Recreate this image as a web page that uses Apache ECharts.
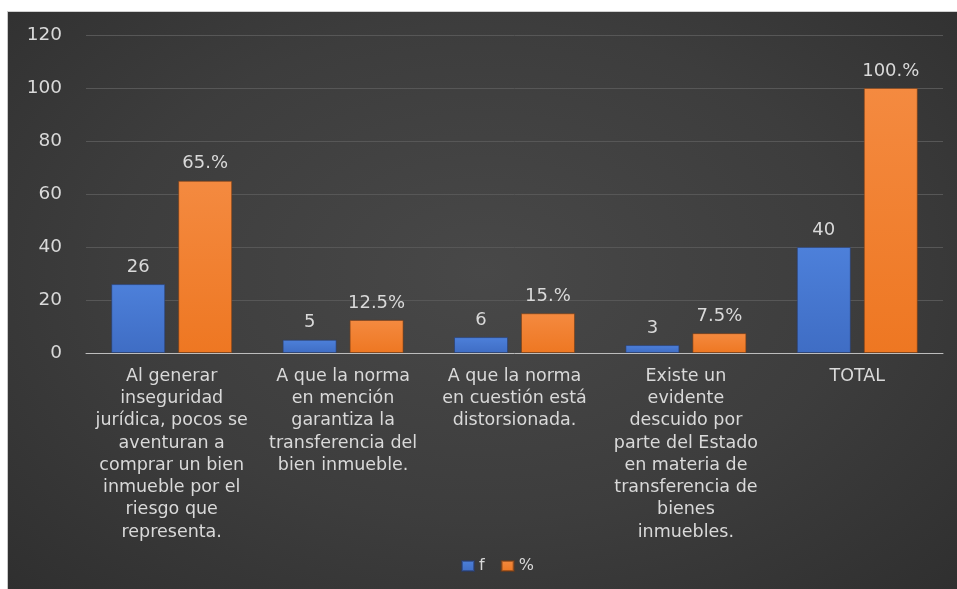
<!DOCTYPE html>
<html>
<head>
<meta charset="utf-8">
<script src="https://cdn.jsdelivr.net/npm/echarts@6/dist/echarts.min.js"></script>
<style>
  html, body { margin: 0; padding: 0; background: #ffffff; }
  #panel {
    position: absolute; left: 7px; top: 11px; width: 950px; height: 578px;
    border-left: 1px solid #c8c8c8; border-top: 1px solid #d0d0d0;
    background: radial-gradient(ellipse at 50% 45%, #484848 0%, #3d3d3d 55%, #2f2f2f 100%);
  }
  #chart { width: 950px; height: 578px; }
</style>
</head>
<body>
<div id="panel"><div id="chart"></div></div>
<script>
// Categories (multi-line labels as they appear under each group)
const categories = [
  'Al generar\ninseguridad\njurídica, pocos se\naventuran a\ncomprar un bien\ninmueble por el\nriesgo que\nrepresenta.',
  'A que la norma\nen mención\ngarantiza la\ntransferencia del\nbien inmueble.',
  'A que la norma\nen cuestión está\ndistorsionada.',
  'Existe un\nevidente\ndescuido por\nparte del Estado\nen materia de\ntransferencia de\nbienes\ninmuebles.',
  'TOTAL'
];
// Frequency per answer
const freqValues = [26, 5, 6, 3, 40];
// Percentage per answer
const pctValues = [65, 12.5, 15, 7.5, 100];
// Printed percentage labels
const pctLabels = ['65.%', '12.5%', '15.%', '7.5%', '100.%'];
// Value axis ticks
const yMin = 0, yMax = 120, yStep = 20;

const textColor = '#d9d9d9';
const fontFamily = '"DejaVu Sans", "Noto Sans", sans-serif';

const chart = echarts.init(document.getElementById('chart'), null, { renderer: 'canvas' });
chart.setOption({
  backgroundColor: 'transparent',
  textStyle: { fontFamily: fontFamily },
  grid: { left: 78, right: 15, top: 23, bottom: 237, containLabel: false },
  legend: {
    bottom: 11, left: 448,
    itemWidth: 12, itemHeight: 10, itemGap: 16,
    icon: 'rect',
    textStyle: { color: textColor, fontSize: 16, fontFamily: fontFamily },
    data: ['f', '%']
  },
  xAxis: {
    type: 'category',
    data: categories,
    axisLine: { lineStyle: { color: '#bdbdbd', width: 1 } },
    axisTick: { show: false },
    axisLabel: {
      color: textColor, fontSize: 17.5, lineHeight: 22.3, margin: 12,
      interval: 0, align: 'center', fontFamily: fontFamily
    }
  },
  yAxis: {
    type: 'value', min: yMin, max: yMax, interval: yStep,
    axisLine: { show: false }, axisTick: { show: false },
    splitLine: { lineStyle: { color: '#575757', width: 1 } },
    axisLabel: { color: textColor, fontSize: 18.5, margin: 24, fontFamily: fontFamily }
  },
  series: [
    {
      name: 'f', type: 'bar', data: freqValues,
      barWidth: 54, barGap: '24%',
      itemStyle: {
        color: new echarts.graphic.LinearGradient(0, 0, 0, 1, [
          { offset: 0, color: '#4d80da' }, { offset: 1, color: '#3f6dc4' }
        ]),
        borderColor: 'rgba(40,60,110,0.6)', borderWidth: 1
      },
      label: { show: true, position: 'top', distance: 8, color: textColor, fontSize: 18, fontFamily: fontFamily }
    },
    {
      name: '%', type: 'bar', data: pctValues,
      barWidth: 54,
      itemStyle: {
        color: new echarts.graphic.LinearGradient(0, 0, 0, 1, [
          { offset: 0, color: '#f48a40' }, { offset: 1, color: '#ee7722' }
        ]),
        borderColor: 'rgba(120,60,20,0.6)', borderWidth: 1
      },
      label: {
        show: true, position: 'top', distance: 8, color: textColor, fontSize: 18, fontFamily: fontFamily,
        formatter: p => pctLabels[p.dataIndex]
      }
    }
  ]
});
</script>
</body>
</html>
